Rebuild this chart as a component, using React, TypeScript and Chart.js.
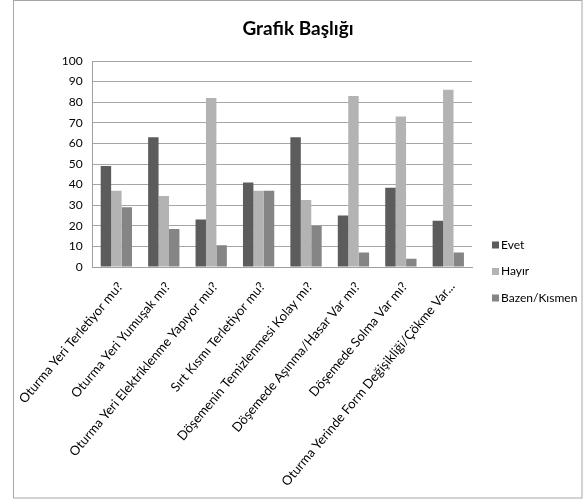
import React, { useEffect, useRef } from "react";
import { Chart, registerables } from "chart.js";

Chart.register(...registerables);

const chartTitle = "Grafik Başlığı";
const categories = [
  "Oturma Yeri Terletiyor mu?",
  "Oturma Yeri Yumuşak mı?",
  "Oturma Yeri Elektriklenme Yapıyor mu?",
  "Sırt Kısmı Terletiyor mu?",
  "Döşemenin Temizlenmesi Kolay mı?",
  "Döşemede Aşınma/Hasar Var mı?",
  "Döşemede Solma Var mı?",
  "Oturma Yerinde Form Değişikliği/Çökme Var...",
];
const seriesNames = ["Evet", "Hayır", "Bazen/Kısmen"];
const evet = [49, 63, 23, 41, 63, 25, 38.5, 22.5];
const hayir = [37, 34.5, 82, 37, 32.5, 83, 73, 86];
const bazen = [29, 18.5, 10.5, 37, 20, 7, 4, 7];
const seriesColors = ["#5c5c5c", "#b3b3b3", "#858585"];
const yTicks = [0, 10, 20, 30, 40, 50, 60, 70, 80, 90, 100];

const FONT = "Lato, 'Liberation Sans', sans-serif";

export default function App() {
  const ref = useRef<HTMLCanvasElement | null>(null);

  useEffect(() => {
    document.body.style.margin = "0";
    if (!ref.current) return;

    const decorPlugin = {
      id: "decor",
      beforeDraw(chart: any) {
        const { ctx } = chart;
        ctx.save();
        ctx.fillStyle = "#ffffff";
        ctx.fillRect(0, 0, chart.width, chart.height);
        ctx.restore();
      },
      afterDraw(chart: any) {
        const { ctx, chartArea } = chart;
        ctx.save();
        // outer border
        ctx.strokeStyle = "#a6a6a6";
        ctx.lineWidth = 1;
        ctx.strokeRect(13.5, 0.5, chart.width - 14.5, chart.height - 1.5);
        // title
        ctx.fillStyle = "#000000";
        ctx.font = `bold 19px ${FONT}`;
        ctx.textAlign = "center";
        ctx.textBaseline = "middle";
        ctx.fillText(chartTitle, (13 + chart.width) / 2, 29);
        // legend
        ctx.font = `12px ${FONT}`;
        ctx.textAlign = "left";
        chart.data.datasets.forEach((ds: any, i: number) => {
          const y = chartArea.bottom - 22 + i * 26.5;
          const x = chartArea.right + 20;
          ctx.fillStyle = ds.backgroundColor;
          ctx.fillRect(x, y - 3.5, 7, 7);
          ctx.fillStyle = "#000000";
          ctx.fillText(ds.label, x + 9, y);
        });
        ctx.restore();
      },
    };

    const chart = new Chart(ref.current, {
      type: "bar",
      data: {
        labels: categories,
        datasets: [evet, hayir, bazen].map((d, i) => ({
          label: seriesNames[i],
          data: d,
          backgroundColor: seriesColors[i],
          borderWidth: 0,
          categoryPercentage: 0.66,
          barPercentage: 1.0,
        })),
      },
      options: {
        animation: false,
        responsive: false,
        maintainAspectRatio: false,
        layout: { padding: { top: 61, right: 111, bottom: 0, left: 0 } },
        plugins: {
          legend: { display: false },
          title: { display: false },
          tooltip: { enabled: false },
        },
        scales: {
          x: {
            grid: { display: false, drawTicks: false },
            border: { display: true, color: "#a0a0a0" },
            ticks: {
              minRotation: 50,
              maxRotation: 50,
              autoSkip: false,
              padding: 12,
              labelOffset: 4,
              color: "#000000",
              font: { family: FONT, size: 13 },
            },
            afterFit(scale: any) {
              scale.height = 232;
            },
          },
          y: {
            min: 0,
            max: 100,
            afterBuildTicks(scale: any) {
              scale.ticks = yTicks.map((v) => ({ value: v }));
            },
            grid: { color: "#a6a6a6", drawTicks: false },
            border: { display: true, color: "#a0a0a0" },
            ticks: {
              padding: 10,
              color: "#000000",
              font: { family: FONT, size: 12 },
            },
            afterFit(scale: any) {
              scale.width = 92;
            },
          },
        },
      },
      plugins: [decorPlugin],
    });
    return () => chart.destroy();
  }, []);

  return (
    <div style={{ width: 583, height: 499, position: "relative" }}>
      <canvas ref={ref} width={583} height={499} style={{ width: 583, height: 499, display: "block" }} />
    </div>
  );
}
